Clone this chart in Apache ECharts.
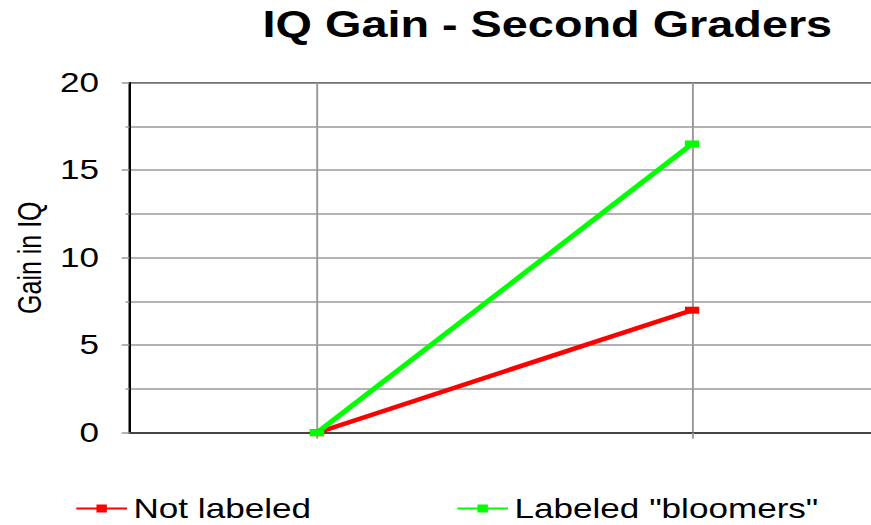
<!DOCTYPE html>
<html>
<head>
<meta charset="utf-8">
<script src="https://cdn.jsdelivr.net/npm/echarts@6/dist/echarts.min.js"></script>
<style>
  html, body { margin: 0; padding: 0; background: #fff; overflow: hidden; }
  #c { width: 670px; height: 525px; transform: scaleX(1.3); transform-origin: 0 0; }
</style>
</head>
<body>
<div id="c"></div>
<script>
const titleText = 'IQ Gain - Second Graders';
const yAxisName = 'Gain in IQ';
const categories = ['Start', 'End'];
const seriesNames = ['Not labeled', 'Labeled "bloomers"'];
const notLabeled = [0, 7];
const bloomers = [0, 16.5];
const seriesColors = ['#ff0000', '#00ff00'];

const chart = echarts.init(document.getElementById('c'), null, { renderer: 'svg' });
const font = 'Liberation Sans, Arial, sans-serif';
const gridGray = '#9a9a9a';

chart.setOption({
  animation: false,
  backgroundColor: '#fff',
  title: {
    text: titleText,
    left: 202,
    top: 6,
    padding: 0,
    textStyle: { fontFamily: font, fontSize: 36, fontWeight: 'bold', color: '#000' }
  },
  legend: {
    left: 57.7,
    top: 495,
    padding: 0,
    itemWidth: 39,
    itemHeight: 10,
    itemGap: 111.5,
    lineStyle: { width: 2 },
    textStyle: { fontFamily: font, fontSize: 27, color: '#000' },
    data: seriesNames
  },
  grid: {
    left: 99.6,
    top: 82.7,
    width: 577,
    height: 350,
    show: true,
    borderColor: '#000',
    borderWidth: 1.5,
    containLabel: false,
    outerBoundsMode: 'none'
  },
  xAxis: {
    type: 'category',
    data: categories,
    boundaryGap: true,
    axisLine: { show: true, lineStyle: { color: '#444', width: 2 } },
    axisTick: { show: true, alignWithLabel: true, length: 6, lineStyle: { color: gridGray, width: 1.5 } },
    axisLabel: { show: false },
    splitLine: { show: true, alignWithLabel: true, lineStyle: { color: gridGray, width: 1.5 } }
  },
  yAxis: {
    type: 'value',
    min: 0,
    max: 20,
    interval: 5,
    name: yAxisName,
    nameLocation: 'middle',
    nameGap: 60,
    nameTextStyle: { fontFamily: font, fontSize: 25, color: '#000' },
    axisLine: { show: true, lineStyle: { color: '#000', width: 1.5 } },
    axisTick: { show: true, length: 6, lineStyle: { color: gridGray, width: 1.5 } },
    minorTick: { show: true, splitNumber: 2, length: 3, lineStyle: { color: gridGray, width: 1.5 } },
    axisLabel: { fontFamily: font, fontSize: 27, color: '#000', margin: 23.5 },
    splitLine: { show: true, lineStyle: { color: gridGray, width: 1.5 } },
    minorSplitLine: { show: true, lineStyle: { color: gridGray, width: 1.5 } }
  },
  series: [
    {
      name: seriesNames[0],
      type: 'line',
      data: notLabeled,
      symbol: 'rect',
      symbolSize: [11, 7],
      showAllSymbol: true,
      itemStyle: { color: seriesColors[0] },
      lineStyle: { color: seriesColors[0], width: 4.5 }
    },
    {
      name: seriesNames[1],
      type: 'line',
      data: bloomers,
      symbol: 'rect',
      symbolSize: [11, 7],
      showAllSymbol: true,
      itemStyle: { color: seriesColors[1] },
      lineStyle: { color: seriesColors[1], width: 4.5 }
    }
  ]
});
</script>
</body>
</html>
